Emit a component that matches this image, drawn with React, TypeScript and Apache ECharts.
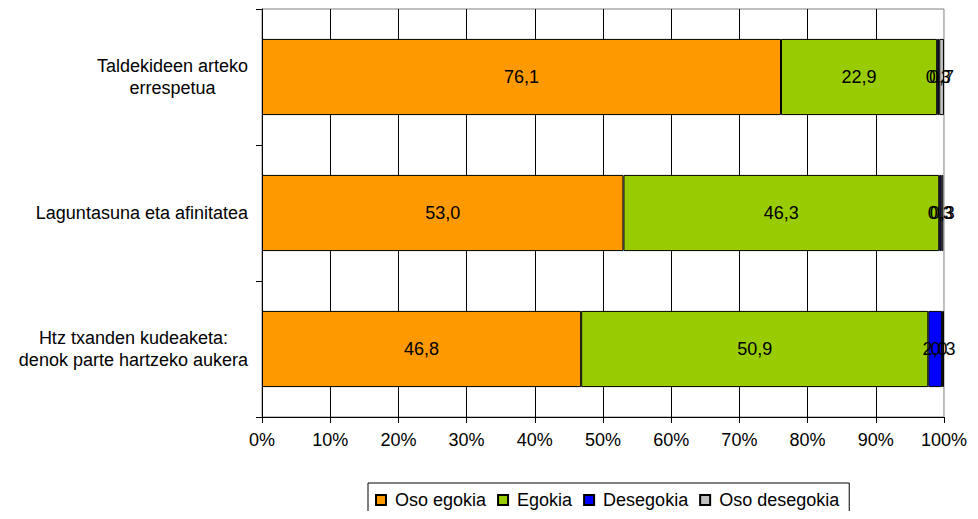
import React, { useEffect, useRef } from "react";
import * as echarts from "echarts";

const categories = [
  "Taldekideen arteko\nerrespetua",
  "Laguntasuna eta afinitatea",
  "Htz txanden kudeaketa:\ndenok parte hartzeko aukera",
];
const seriesNames = ["Oso egokia", "Egokia", "Desegokia", "Oso desegokia"];
const osoEgokia = [76.1, 53.0, 46.8];
const egokia = [22.9, 46.3, 50.9];
const desegokia = [0.3, 0.3, 2.0];
const osoDesegokia = [0.7, 0.3, 0.3];
const colors = ["#FF9900", "#99CC00", "#0000FF", "#C0C0C0"];
const xTicks = [0, 10, 20, 30, 40, 50, 60, 70, 80, 90, 100];

const FONT = "Liberation Sans, Arial, sans-serif";

export default function App() {
  const ref = useRef<HTMLDivElement>(null);
  useEffect(() => {
    if (!ref.current) return;
    const chart = echarts.init(ref.current, undefined, { renderer: "svg" });
    const values = [osoEgokia, egokia, desegokia, osoDesegokia];
    chart.setOption({
      animation: false,
      textStyle: { fontFamily: FONT },
      grid: {
        left: 254,
        right: 22,
        top: 1,
        bottom: 94,
        show: true,
        borderColor: "#808080",
        borderWidth: 1,
        backgroundColor: "transparent",
      },
      legend: {
        left: 360,
        top: 475,
        orient: "horizontal",
        data: seriesNames,
        borderColor: "#000",
        borderWidth: 1,
        padding: [8, 10, 8, 7],
        itemWidth: 10,
        itemHeight: 10,
        itemGap: 11,
        icon: "rect",
        textStyle: { fontSize: 18, color: "#000", fontFamily: FONT, padding: [0, 0, 0, 4] },
      },
      xAxis: {
        type: "value",
        min: xTicks[0],
        max: xTicks[xTicks.length - 1],
        interval: 10,
        axisLine: { show: true, lineStyle: { color: "#000", width: 1 } },
        axisTick: { show: true, length: 6, lineStyle: { color: "#000" } },
        axisLabel: {
          formatter: (v: number) => `${v}%`,
          fontSize: 18,
          color: "#000",
          margin: 14,
          fontFamily: FONT,
        },
        splitLine: {
          show: true,
          showMinLine: false,
          showMaxLine: false,
          lineStyle: { color: "#000", width: 1 },
        },
      },
      yAxis: {
        type: "category",
        inverse: true,
        data: categories,
        axisLine: { show: true, lineStyle: { color: "#000", width: 1 } },
        axisTick: { show: true, length: 6, lineStyle: { color: "#000" } },
        axisLabel: {
          margin: 14,
          color: "#000",
          fontSize: 18,
          fontFamily: FONT,
          formatter: (v: string) =>
            v
              .split("\n")
              .map((l) => `{c|${l}}`)
              .join("\n"),
          rich: {
            c: { align: "center", fontSize: 18, lineHeight: 22, color: "#000", fontFamily: FONT },
          },
        },
        splitLine: { show: false },
      },
      series: seriesNames.map((name, i) => ({
        name,
        type: "bar",
        stack: "total",
        barWidth: "56%",
        data: values[i],
        itemStyle: { color: colors[i], borderColor: "#000", borderWidth: 1 },
        label: {
          show: true,
          position: "inside",
          color: "#000",
          fontSize: 18,
          fontFamily: FONT,
          formatter: (p: any) => p.value.toFixed(1).replace(".", ","),
        },
      })),
    });
    return () => chart.dispose();
  }, []);
  return <div ref={ref} style={{ width: 962, height: 503 }} />;
}
